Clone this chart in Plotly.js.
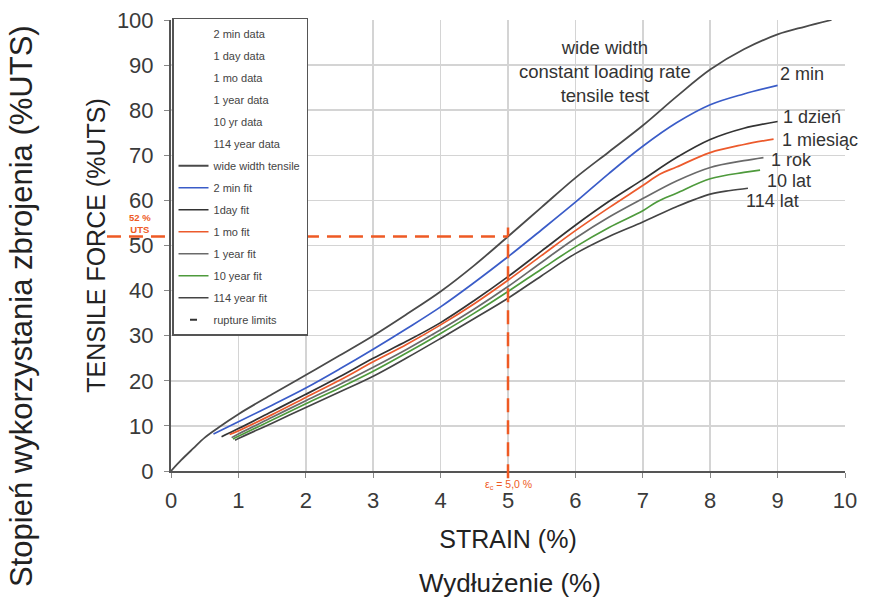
<!DOCTYPE html>
<html><head><meta charset="utf-8">
<script src="https://cdn.plot.ly/plotly-3.0.1.min.js"></script>
<style>html,body{margin:0;padding:0;background:#fff}#chart{width:869px;height:606px}</style>
</head><body><div id="chart"></div>
<script>
// ---- data (strain %, tensile force %UTS) ----
const wideX = [0, 0.15, 0.33, 0.5, 0.7, 1, 1.5, 2, 2.5, 3, 3.5, 4, 4.5, 5, 5.5, 6, 6.5, 7, 7.5, 8, 8.5, 9, 9.4, 9.8];
const wideY = [0, 2.4, 5, 7.4, 9.6, 12.6, 17, 21.3, 25.6, 30, 34.8, 39.8, 45.6, 52, 58.5, 65, 70.8, 76.6, 83, 89, 93.5, 96.8, 98.5, 100];

const min2X = [0.63, 1, 1.5, 2, 2.5, 3, 3.5, 4, 4.5, 5, 5.5, 6, 6.5, 7, 7.5, 8, 8.5, 9];
const min2Y = [8.2, 10.9, 14.6, 18.4, 22.6, 27, 31.6, 36.4, 41.8, 47.5, 53.5, 59.6, 66, 72, 77.2, 81.2, 83.6, 85.5];

const day1X = [0.75, 1, 1.5, 2, 2.5, 3, 3.5, 4, 4.5, 5, 5.5, 6, 6.5, 7, 7.5, 8, 8.5, 9];
const day1Y = [7.6, 9.4, 13.2, 17, 20.9, 25, 28.8, 32.9, 37.8, 43.1, 48.8, 54.5, 59.8, 64.6, 69.5, 73.5, 76, 77.5];

const mo1X = [0.87, 1, 1.5, 2, 2.5, 3, 3.5, 4, 4.5, 5, 5.5, 6, 6.5, 7, 7.25, 7.5, 8, 8.5, 8.94];
const mo1Y = [8.1, 8.9, 12.5, 16.3, 20.1, 24.2, 28.1, 32.4, 37.1, 42.3, 47.8, 53.3, 58.4, 63.3, 65.8, 67.4, 70.6, 72.4, 73.6];

const yr1X = [0.9, 1, 1.5, 2, 2.5, 3, 3.5, 4, 4.5, 5, 5.5, 6, 6.5, 7, 7.5, 8, 8.5, 8.79];
const yr1Y = [7.4, 8.2, 11.9, 15.6, 19.2, 23, 27, 31.3, 35.9, 40.9, 46.3, 51.6, 56.3, 60.4, 64.3, 67.3, 68.8, 69.5];

const yr10X = [0.92, 1, 1.5, 2, 2.5, 3, 3.5, 4, 4.5, 5, 5.5, 6, 6.5, 7, 7.2, 7.5, 8, 8.5, 8.74];
const yr10Y = [7.1, 7.7, 11.3, 14.9, 18.4, 22.1, 26.2, 30.5, 35, 39.8, 44.8, 49.7, 54, 57.7, 59.6, 61.6, 64.8, 66.2, 66.7];

const yr114X = [0.95, 1, 1.5, 2, 2.5, 3, 3.5, 4, 4.5, 5, 5.5, 6, 6.5, 7, 7.5, 8, 8.3, 8.56];
const yr114Y = [6.8, 7.2, 10.6, 14.1, 17.5, 21, 25.1, 29.4, 33.8, 38.3, 43.3, 48.2, 52, 55.2, 58.6, 61.4, 62.2, 62.7];

const dataNames = ['2 min data', '1 day data', '1 mo data', '1 year data', '10 yr data', '114 year data'];
const fitNames = ['2 min fit', '1day fit', '1 mo fit', '1 year fit', '10 year fit', '114 year fit'];
const curveLabels = ['2 min', '1 dzień', '1 miesiąc', '1 rok', '10 lat', '114 lat'];
const wideName = 'wide width tensile';
const wideNote = 'wide width<br>constant loading rate<br>tensile test';
const ruptureName = 'rupture limits';

const refStrain = 5.0;   // %
const refForce = 52;     // %UTS
const refTop = 54;       // vertical marker reaches slightly above refForce
const xRange = [0, 10];
const yRange = [0, 100];

// ---- styles ----
const fitX = [min2X, day1X, mo1X, yr1X, yr10X, yr114X];
const fitY = [min2Y, day1Y, mo1Y, yr1Y, yr10Y, yr114Y];
const fitColors = ['#3a5cc8', '#333333', '#ec5a2c', '#6a6a6a', '#4e9a3c', '#444444'];
const labelShift = [[0, 11], [3, 4], [6, -1], [6, -2], [5, -11], [-4, -13]];
const red = '#ee5a24';
const FONT = 'Liberation Sans, Arial, sans-serif';
const SPL = {shape: 'spline', smoothing: 1};

const traces = [];
dataNames.forEach(n => traces.push({
  type: 'scatter', mode: 'markers', name: n, x: [null], y: [null],
  marker: {color: 'rgba(0,0,0,0)', size: 1, line: {width: 0}}, legendgroup: n, hoverinfo: 'skip'
}));
traces.push({
  type: 'scatter', mode: 'lines', name: wideName, x: wideX, y: wideY,
  line: Object.assign({color: '#4a4a4a', width: 1.8}, SPL), legendgroup: wideName
});
fitNames.forEach((n, i) => traces.push({
  type: 'scatter', mode: 'lines', name: n, x: fitX[i], y: fitY[i],
  line: Object.assign({color: fitColors[i], width: 1.7}, SPL), legendgroup: n
}));
traces.push({
  type: 'scatter', mode: 'markers', name: ruptureName, x: [null], y: [null],
  marker: {symbol: 'line-ew', size: 5, color: '#333', line: {width: 2, color: '#333'}},
  legendgroup: ruptureName
});

const annotations = [];
curveLabels.forEach((t, i) => {
  const xs = fitX[i], ys = fitY[i];
  annotations.push({
    x: xs[xs.length - 1], y: ys[ys.length - 1], xref: 'x', yref: 'y',
    text: t, showarrow: false, xanchor: 'left', yanchor: 'middle',
    xshift: labelShift[i][0], yshift: labelShift[i][1],
    font: {family: FONT, size: 18, color: '#333'}
  });
});
annotations.push({
  x: 6.44, y: 88.5, xref: 'x', yref: 'y', text: wideNote, showarrow: false,
  xanchor: 'center', yanchor: 'middle', font: {family: FONT, size: 18.5, color: '#333'}
});
annotations.push({
  x: -0.046, y: (refForce + 2.9) / yRange[1], xref: 'paper', yref: 'paper',
  text: '<b>' + refForce + ' %<br>UTS</b>', showarrow: false,
  xanchor: 'center', yanchor: 'middle', font: {family: FONT, size: 9.5, color: red}
});
annotations.push({
  x: refStrain, y: -0.031, xref: 'x', yref: 'paper',
  text: 'ε<sub>c</sub> = ' + refStrain.toFixed(1).replace('.', ',') + ' %', showarrow: false,
  xanchor: 'center', yanchor: 'middle', font: {family: FONT, size: 10.5, color: red}
});
annotations.push({
  x: 0.503, y: -0.248, xref: 'paper', yref: 'paper', text: 'Wydłużenie (%)',
  showarrow: false, xanchor: 'center', yanchor: 'middle',
  font: {family: FONT, size: 26, color: '#222'}
});
annotations.push({
  x: -0.221, y: 0.366, xref: 'paper', yref: 'paper', text: 'Stopień wykorzystania zbrojenia (%UTS)',
  showarrow: false, textangle: -90, xanchor: 'center', yanchor: 'middle',
  font: {family: FONT, size: 31, color: '#222'}
});

const px = refStrain / (xRange[1] - xRange[0]);
const shapes = [
  {type: 'line', xref: 'paper', yref: 'paper', x0: -0.095, x1: px, y0: refForce / yRange[1], y1: refForce / yRange[1],
   line: {color: red, width: 2.5, dash: '14px,8px'}, layer: 'above'},
  {type: 'line', xref: 'paper', yref: 'paper', x0: px, x1: px, y0: -0.016, y1: refTop / yRange[1],
   line: {color: red, width: 2.5, dash: '14px,8px'}, layer: 'above'}
];

const layout = {
  width: 869, height: 606,
  margin: {l: 171, r: 24, t: 20, b: 135},
  paper_bgcolor: '#fff', plot_bgcolor: '#fff',
  font: {family: FONT, color: '#333'},
  showlegend: true,
  legend: {
    x: 0.0015, y: 1.005, xanchor: 'left', yanchor: 'top',
    bgcolor: '#fff', bordercolor: '#555', borderwidth: 1.5,
    font: {family: FONT, size: 11, color: '#444'},
    tracegroupgap: 3, traceorder: 'grouped', maxheight: 500
  },
  xaxis: {
    range: xRange, dtick: 1, tick0: 0,
    showgrid: true, gridcolor: '#d4d4d4', gridwidth: 1.5,
    zeroline: false, showline: true, linecolor: '#555', linewidth: 2,
    ticks: 'outside', ticklen: 5, tickcolor: '#888', ticklabelstandoff: 4,
    tickfont: {family: FONT, size: 22, color: '#3a3a3a'},
    title: {text: 'STRAIN (%)', font: {family: FONT, size: 25, color: '#222'}, standoff: 18}
  },
  yaxis: {
    range: yRange, dtick: 10, tick0: 0,
    showgrid: true, gridcolor: '#d4d4d4', gridwidth: 1.5,
    zeroline: false, showline: true, linecolor: '#555', linewidth: 2,
    ticks: 'outside', ticklen: 5, tickcolor: '#888', ticklabelstandoff: 6,
    tickfont: {family: FONT, size: 22, color: '#3a3a3a'},
    title: {text: 'TENSILE FORCE (%UTS)', font: {family: FONT, size: 25, color: '#222'}, standoff: 4}
  },
  annotations: annotations,
  shapes: shapes
};

Plotly.newPlot('chart', traces, layout, {displayModeBar: false, staticPlot: true});
</script></body></html>
